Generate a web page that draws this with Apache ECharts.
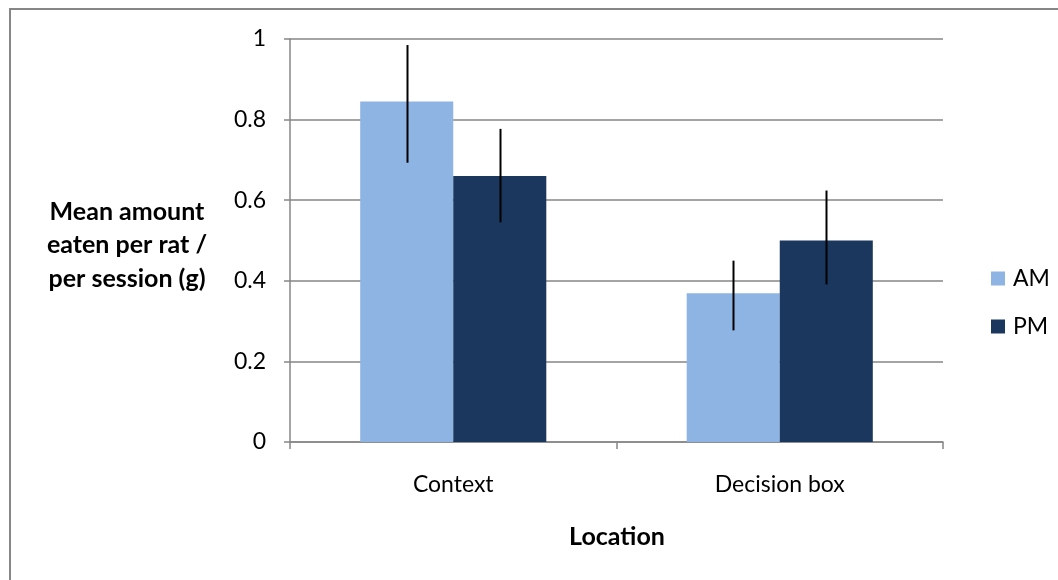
<!DOCTYPE html>
<html><head><meta charset="utf-8">
<script src="https://cdn.jsdelivr.net/npm/echarts@6/dist/echarts.min.js"></script>
<style>html,body{margin:0;padding:0;background:#fff}#c{width:1058px;height:580px}</style>
</head><body><div id="c"></div>
<script>
const categories = ['Context', 'Decision box'];
const seriesNames = ['AM', 'PM'];
const amValues = [0.845, 0.369];
const pmValues = [0.66, 0.50];
const amErrLow = [0.693, 0.277];
const amErrHigh = [0.985, 0.450];
const pmErrLow = [0.545, 0.391];
const pmErrHigh = [0.777, 0.624];
const yTicks = [0, 0.2, 0.4, 0.6, 0.8, 1];

const FONT = 'Lato, "Open Sans", sans-serif';
const FS = 23;
const GAP = 0.43;
const chart = echarts.init(document.getElementById('c'));

function errSeries(name, low, high, sIdx) {
  return {
    type: 'custom', name: name + ' err', silent: true, z: 10,
    data: categories.map((c, i) => [i, low[i], high[i]]),
    renderItem: function (params, api) {
      const band = api.size([1, 0])[0];
      const bw = band * (1 - GAP) / 2;
      const off = (sIdx === 0 ? -0.5 : 0.5) * bw;
      const p1 = api.coord([api.value(0), api.value(1)]);
      const p2 = api.coord([api.value(0), api.value(2)]);
      const x = Math.round(p1[0] + off) + 0.5;
      return { type: 'line', shape: { x1: x, y1: p1[1], x2: x, y2: p2[1] },
        style: { stroke: '#000', lineWidth: 2 } };
    }
  };
}

chart.setOption({
  animation: false,
  grid: { left: 290, right: 115, top: 39, bottom: 138 },
  legend: {
    orient: 'vertical', left: 986, top: 262, itemWidth: 14, itemHeight: 14,
    itemGap: 25, icon: 'rect', data: seriesNames,
    textStyle: { fontFamily: FONT, fontSize: FS, color: '#000', padding: [0,0,0,3] }
  },
  xAxis: {
    type: 'category', data: categories,
    axisLine: { lineStyle: { color: '#868686', width: 1.5 } },
    axisTick: { show: true, length: 7, lineStyle: { color: '#868686', width: 1.5 } },
    axisLabel: { margin: 31, fontFamily: FONT, fontSize: FS, color: '#000' }
  },
  yAxis: {
    type: 'value', min: 0, max: 1, interval: 0.2,
    axisLine: { show: true, lineStyle: { color: '#868686', width: 1.5 } },
    axisTick: { show: true, length: 6, lineStyle: { color: '#868686', width: 1.5 } },
    splitLine: { lineStyle: { color: '#868686', width: 1.5 } },
    axisLabel: { margin: 24, fontFamily: FONT, fontSize: FS, color: '#000',
      formatter: v => { const t = yTicks.find(x => Math.abs(x - v) < 1e-9); return t === undefined ? '' : String(t); } }
  },
  series: [
    { type: 'bar', name: 'AM', data: amValues, barGap: '0%', barCategoryGap: (GAP*100)+'%',
      itemStyle: { color: '#8EB4E3' } },
    { type: 'bar', name: 'PM', data: pmValues, barGap: '0%', barCategoryGap: (GAP*100)+'%',
      itemStyle: { color: '#1B375D' } },
    errSeries('AM', amErrLow, amErrHigh, 0),
    errSeries('PM', pmErrLow, pmErrHigh, 1)
  ],
  graphic: [
    { type: 'rect', silent: true, shape: { x: 10, y: 9, width: 1200, height: 800 },
      style: { fill: 'none', stroke: '#868686', lineWidth: 2 }, z: -1 },
    { type: 'text', style: { text: 'Mean amount\neaten per rat /\nper session (g)',
      x: 127, y: 245, align: 'center', verticalAlign: 'middle', lineHeight: 33.5,
      font: 'bold 25px ' + FONT, fill: '#000' } },
    { type: 'text', style: { text: 'Location', x: 617, y: 537, align: 'center', verticalAlign: 'middle',
      font: 'bold 25px ' + FONT, fill: '#000' } }
  ]
});
</script></body></html>
